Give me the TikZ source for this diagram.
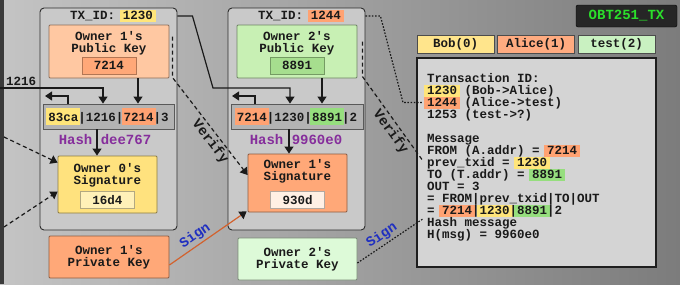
\documentclass[tikz,border=0pt]{standalone}
\usepackage{fontspec}
\setmonofont{Liberation Mono}
\usepackage{tikz}
\usetikzlibrary{arrows.meta,positioning,calc}
\newcommand{\hlt}[2]{\hspace{-3pt}{\setlength{\fboxsep}{0pt}\colorbox{#1}{\rule[-2.5pt]{0pt}{12pt}\hspace{3pt}#2\hspace{3pt}}}\hspace{-3pt}}
\newcommand{\fhl}[2]{\hspace{-2pt}{\setlength{\fboxsep}{0pt}\colorbox{#1}{\rule[-4pt]{0pt}{17pt}\hspace{2pt}#2\hspace{2pt}}}\hspace{-2pt}}
\definecolor{tink}{HTML}{1A1A1A}
\definecolor{bgl}{HTML}{C4C4C4}
\definecolor{bgm}{HTML}{ADADAD}
\definecolor{bgr}{HTML}{7C7C7C}
\definecolor{bgbar}{HTML}{3A3A3A}
\definecolor{cblk}{HTML}{C9C9C9}
\definecolor{cstrip}{HTML}{B3B3B3}
\definecolor{korg1}{HTML}{FFC8A2}
\definecolor{korg2}{HTML}{FFA878}
\definecolor{kgrn1}{HTML}{C8F0B4}
\definecolor{kgrn2}{HTML}{A6DE8E}
\definecolor{kgrn3}{HTML}{DDFAD8}
\definecolor{syel}{HTML}{FFE27E}
\definecolor{syel2}{HTML}{FFF1B8}
\definecolor{sorg3}{HTML}{FFF0E4}
\definecolor{hyel}{HTML}{FFE57A}
\definecolor{horg}{HTML}{FFA272}
\definecolor{hgrn}{HTML}{96DE7E}
\definecolor{lyel}{HTML}{FFE58C}
\definecolor{lorg}{HTML}{FFAB80}
\definecolor{lgrn}{HTML}{C9F1C1}
\definecolor{chash}{HTML}{862E9C}
\definecolor{csign}{HTML}{2030C0}
\definecolor{csignln}{HTML}{D2622E}
\definecolor{cobt}{HTML}{262626}
\definecolor{cobttxt}{HTML}{2BE02B}
\definecolor{txfill}{HTML}{D4D4D4}
\definecolor{txdraw}{HTML}{1E1E1E}

\begin{document}
\begin{tikzpicture}[x=1pt,y=-1pt,
  font=\ttfamily\bfseries\fontsize{12.5pt}{12pt}\selectfont,text=tink,
  >={Triangle[length=7pt,width=9pt]},
  conn/.style={line width=1.2pt,draw=tink},
  vfy/.style={conn,dash pattern=on 4pt off 3pt},
  dots/.style={conn,dash pattern=on 1.6pt off 1.6pt},
  blk/.style={draw=gray!35!black,fill=cblk,rounded corners=4pt,line width=0.9pt,
              minimum width=137pt,minimum height=222pt,inner sep=0pt},
  keybox/.style={draw=#1!55!black,fill=#1,line width=0.8pt,rounded corners=1pt,
              minimum width=120pt,minimum height=53pt,inner sep=0pt,align=center},
  valbox/.style={draw=#1!70!black,fill=#1,line width=0.6pt,minimum width=54pt,
              minimum height=17pt,inner sep=0pt},
  strip/.style={draw=gray!70!black,fill=cstrip,line width=0.8pt,minimum width=131pt,
              minimum height=25pt,inner sep=0pt},
  boxtext/.style={align=center,inner sep=0pt},
  bigfont/.style={font=\ttfamily\bfseries\fontsize{14pt}{14pt}\selectfont},
  hashtxt/.style={bigfont,text=chash},
  vlabel/.style={bigfont,sloped,below=2pt,inner sep=0pt},
  signlbl/.style={bigfont,sloped,above=2pt,inner sep=0pt,text=csign},
  legend/.style={draw=gray!60!black,line width=0.6pt,minimum width=77pt,
              minimum height=18pt,inner sep=0pt},
  txbox/.style={draw=txdraw,fill=txfill,line width=1.6pt,minimum width=239pt,
              minimum height=209pt,inner sep=0pt},
  txline/.style={anchor=base west,inner sep=0pt},
  obt/.style={bigfont,fill=cobt,draw=black,rounded corners=2pt,text=cobttxt,
              minimum width=101pt,minimum height=22pt}]

\useasboundingbox (0,0) rectangle (680,284);
\shade[left color=bgl,middle color=bgm,right color=bgr] (0,0) rectangle (680,284);
\fill[bgbar] (0,0) rectangle (4,284);

% transaction 1230
\node[blk] (blk1) at (108.5,119) {};
\node (tx1) at (113,16) {TX\_ID: \hlt{hyel}{1230}};
\node[keybox=korg1] (pub1) at (109,51.5) {};
\node[boxtext,below=6.5pt of pub1.north] (pub1t) {Owner 1's\\Public Key};
\node[valbox=korg2,above=4pt of pub1.south] (pk1) {7214};
\node[strip] (strip1) at (108.5,116.5) {\fhl{hyel}{83ca}|1216|\fhl{horg}{7214}|3};
\node[hashtxt] (hash1) at (105,139) {Hash dee767};
\node[keybox=syel,minimum width=99pt,minimum height=57pt] (sig0) at (107.5,184.5) {};
\node[boxtext,below=8pt of sig0.north] (sig0t) {Owner 0's\\Signature};
\node[valbox=syel2,above=5pt of sig0.south] (sv0) {16d4};
\node[keybox=korg2,minimum height=42pt] (priv1) at (109,257) {Owner 1's\\Private Key};

% transaction 1244
\node[blk] (blk2) at (296.5,119) {};
\node (tx2) at (301,16) {TX\_ID: \hlt{horg}{1244}};
\node[keybox=kgrn1] (pub2) at (297,51.5) {};
\node[boxtext,below=6.5pt of pub2.north] (pub2t) {Owner 2's\\Public Key};
\node[valbox=kgrn2,above=4pt of pub2.south] (pk2) {8891};
\node[strip,minimum width=132pt] (strip2) at (297,116.5) {\fhl{horg}{7214}|1230|\fhl{hgrn}{8891}|2};
\node[hashtxt] (hash2) at (296,139) {Hash 9960e0};
\node[keybox=korg2,minimum width=99pt,minimum height=58pt] (sig1) at (297.5,183) {};
\node[boxtext,below=5.5pt of sig1.north] (sig1t) {Owner 1's\\Signature};
\node[valbox=sorg3,above=4pt of sig1.south] (sv1) {930d};
\node[keybox=kgrn3,minimum width=119pt,minimum height=42pt] (priv2) at (297.5,259) {Owner 2's\\Private Key};

% legend and message box
\node[obt] (obt) at (626.5,16) {OBT251\_TX};
\node[legend,fill=lyel] (bob) at (455.5,44) {Bob(0)};
\node[legend,fill=lorg,right=3pt of bob] (alice) {Alice(1)};
\node[legend,fill=lgrn,right=3pt of alice] (test) {test(2)};
\node[txbox] (txbox) at (536.5,162.5) {};
\foreach \yy/\txt [count=\i] in {
  82/{Transaction ID:},
  94/{\hlt{hyel}{1230} (Bob->Alice)},
  106/{\hlt{horg}{1244} (Alice->test)},
  118/{1253 (test->?)},
  142/{Message},
  154/{FROM (A.addr) = \hlt{horg}{7214}},
  166/{prev\_txid = \hlt{hyel}{1230}},
  178/{TO (T.addr) = \hlt{hgrn}{8891}},
  190/{OUT = 3},
  202/{= FROM|prev\_txid|TO|OUT},
  214/{= \hlt{horg}{7214}|\hlt{hyel}{1230}|\hlt{hgrn}{8891}|2},
  226/{Hash message},
  238/{H(msg) = 9960e0}}
  \node[txline] (tl\i) at (427,\yy) {\txt};

% connectors
\coordinate (in1216) at (0,88);
\coordinate (out1) at (45,96);
\coordinate (out2) at (232,96);
\coordinate (vin0a) at (4,137);
\coordinate (vin0b) at (4,227);
\node[above right=2pt and 6pt of in1216,inner sep=0pt] (lbl1216) {1216};
\draw[conn,->] (in1216) -| ($(strip1.north)+(-5.5,0)$);
\draw[conn,->] ($(strip1.north)+(-40.5,0)$) |- (out1);
\draw[conn,->] ($(pub1.south)+(29,0)$) -- ($(strip1.north)+(29.5,0)$);
\draw[conn,->] ($(strip1.south)+(-11.5,0)$) coordinate (h1) -- (h1 |- sig0.north);
\draw[vfy,->] (vin0a) -- ($(sig0.north west)+(0,7)$);
\draw[vfy,->] (vin0b) -- ($(sig0.north west)+(0,36)$);

\draw[conn,->] (tx1 -| blk1.east) -- ++(15,0) -- (213,88) -| ($(strip2.north)+(-7,0)$);
\draw[conn,->] ($(pub2.south)+(25,0)$) -- ($(strip2.north)+(25,0)$);
\draw[conn,->] ($(strip2.north)+(-42,0)$) |- (out2);
\draw[conn,->] ($(strip2.south)+(-8,0)$) coordinate (h2) -- (h2 |- sig1.north);

\draw[vfy,->] ($(pub1.north east)+(3,12)$) -- ($(pub1.south east)+(3,-1)$)
  -- node[vlabel,pos=0.6] {Verify} ($(sig1.west)+(0,-8)$);
\draw[vfy] ($(blk2.north east)+(-3,34)$) -- ($(blk2.north east)+(-3,69)$)
  -- node[vlabel,pos=0.6] {Verify} ($(tl7.west)+(-5,-3)$);
\draw[dots] (tx2 -| blk2.east) -- ++(15,0) -- ($(tl3.west)+(-24,0)$) -- ($(tl3.west)+(-4,0)$);

\draw[conn,draw=csignln,-{Triangle[length=7pt,width=9pt,color=tink]}] ($(priv1.east)+(0,8)$)
  -- node[signlbl,pos=0.4] {Sign} ($(sig1.south west)+(-1,-1)$);
\draw[dots] ($(priv2.east)+(0,4)$) -- node[signlbl,pos=0.45] {Sign} ($(tl12.west)+(-4,-4)$);
\end{tikzpicture}
\end{document}
